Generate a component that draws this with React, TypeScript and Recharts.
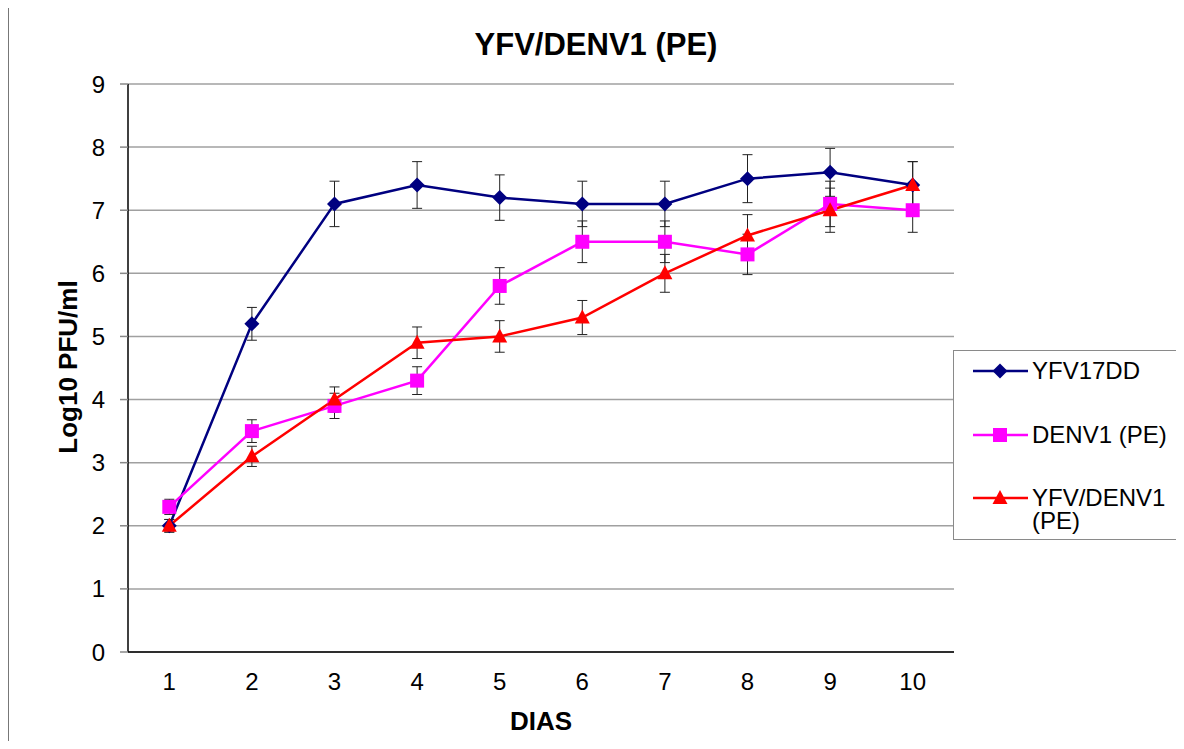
import React from 'react';
import { LineChart, Line, XAxis, YAxis, CartesianGrid, ErrorBar, Legend } from 'recharts';

const days = ['1', '2', '3', '4', '5', '6', '7', '8', '9', '10'];
const yfv17dd = [2.0, 5.2, 7.1, 7.4, 7.2, 7.1, 7.1, 7.5, 7.6, 7.4];
const denv1 = [2.3, 3.5, 3.9, 4.3, 5.8, 6.5, 6.5, 6.3, 7.1, 7.0];
const yfvDenv1 = [2.0, 3.1, 4.0, 4.9, 5.0, 5.3, 6.0, 6.6, 7.0, 7.4];
const errYfv17dd = [0.1, 0.26, 0.36, 0.37, 0.36, 0.36, 0.36, 0.38, 0.38, 0.37];
const errDenv1 = [0.12, 0.18, 0.2, 0.22, 0.29, 0.33, 0.33, 0.32, 0.36, 0.35];
const errYfvDenv1 = [0.1, 0.16, 0.2, 0.25, 0.25, 0.27, 0.3, 0.33, 0.35, 0.37];
const yTicks = [0, 1, 2, 3, 4, 5, 6, 7, 8, 9];

const seriesNames = ['YFV17DD', 'DENV1 (PE)', 'YFV/DENV1 (PE)'];
const seriesColors = ['#000080', '#FF00FF', '#FF0000'];
const seriesShapes = ['diamond', 'square', 'triangle'];

const data = days.map((d, i) => ({
  day: d,
  s1: yfv17dd[i],
  s2: denv1[i],
  s3: yfvDenv1[i],
  e1: errYfv17dd[i],
  e2: errDenv1[i],
  e3: errYfvDenv1[i],
}));

const FONT = '"Liberation Sans", Arial, sans-serif';

function markerPath(shape: string, cx: number, cy: number): string {
  if (shape === 'diamond') {
    const r = 7.5;
    return `M${cx},${cy - r}L${cx + r},${cy}L${cx},${cy + r}L${cx - r},${cy}Z`;
  }
  if (shape === 'square') {
    const h = 7;
    return `M${cx - h},${cy - h}L${cx + h},${cy - h}L${cx + h},${cy + h}L${cx - h},${cy + h}Z`;
  }
  const w = 7.5;
  return `M${cx},${cy - 8}L${cx + w},${cy + 6}L${cx - w},${cy + 6}Z`;
}

const makeDot = (shape: string, color: string) => (props: any) => {
  const { cx, cy, index } = props;
  if (cx == null || cy == null) return <g key={`d-${shape}-${index}`} />;
  return <path key={`d-${shape}-${index}`} d={markerPath(shape, cx, cy)} fill={color} stroke="none" />;
};

const renderLegend = (props: any) => {
  const payload = [...(props.payload || [])].sort(
    (a: any, b: any) => seriesNames.indexOf(a.value) - seriesNames.indexOf(b.value)
  );
  const tops = [20, 84, 147];
  return (
    <div
      style={{
        position: 'relative',
        width: 223,
        height: 190,
        borderTop: '1.5px solid #8a8a8a',
        borderLeft: '1.5px solid #8a8a8a',
        borderBottom: '1.5px solid #8a8a8a',
        background: '#fff',
        fontFamily: FONT,
        fontSize: 24,
        color: '#000',
        boxSizing: 'border-box',
      }}
    >
      {payload.map((entry: any, i: number) => {
        const idx = seriesNames.indexOf(entry.value);
        const shape = seriesShapes[idx];
        const color = seriesColors[idx];
        const cy = tops[i];
        return (
          <div key={entry.value}>
            <svg style={{ position: 'absolute', left: 18, top: cy - 12 }} width={58} height={24}>
              <line x1={1} y1={12} x2={56} y2={12} stroke={color} strokeWidth={2.5} />
              <path d={markerPath(shape, 28, 12)} fill={color} />
            </svg>
            <div
              style={{
                position: 'absolute',
                left: 78,
                top: cy - 12,
                width: 136,
                lineHeight: '23px',
              }}
            >
              {entry.value}
            </div>
          </div>
        );
      })}
    </div>
  );
};

export default function App() {
  const W = 1168;
  const H = 733;
  return (
    <div style={{ position: 'relative', width: W, height: H, fontFamily: FONT }}>
      <div
        style={{
          position: 'absolute',
          left: 0,
          top: -1,
          width: W,
          height: H + 1,
          borderTop: '1.5px solid #777',
          borderLeft: '1.5px solid #777',
          boxSizing: 'border-box',
          pointerEvents: 'none',
        }}
      />
      <LineChart width={W} height={H} data={data} margin={{ top: 76, right: 222, bottom: 0, left: 0 }}>
        <CartesianGrid vertical={false} stroke="#a0a0a0" strokeWidth={1.5} yAxisId="l" />
        <XAxis
          dataKey="day"
          scale="band"
          height={89}
          tickLine={false}
          tickSize={6}
          tickMargin={15}
          axisLine={{ stroke: '#000', strokeWidth: 1.5 }}
          tick={{ fill: '#000', fontSize: 24, fontFamily: FONT }}
          interval={0}
        />
        <YAxis
          yAxisId="l"
          width={120}
          domain={[0, 9]}
          ticks={yTicks}
          interval={0}
          tickSize={8}
          tickMargin={15}
          tickLine={{ stroke: '#888', strokeWidth: 1.5 }}
          axisLine={{ stroke: '#000', strokeWidth: 1.5 }}
          tick={{ fill: '#000', fontSize: 24, fontFamily: FONT }}
        />
        <YAxis
          yAxisId="r"
          orientation="right"
          width={0}
          domain={[0, 9]}
          tick={false}
          tickLine={false}
          axisLine={{ stroke: '#999', strokeWidth: 2 }}
        />
        <Legend
          layout="vertical"
          align="center"
          verticalAlign="middle"
          content={renderLegend}
          wrapperStyle={{ left: 945, top: 342, width: 223, height: 190 }}
        />
        <Line
          yAxisId="l"
          name={seriesNames[0]}
          dataKey="s1"
          stroke={seriesColors[0]}
          strokeWidth={2.5}
          dot={makeDot(seriesShapes[0], seriesColors[0])}
          activeDot={false}
          isAnimationActive={false}
        >
          <ErrorBar dataKey="e1" direction="y" width={5} stroke="#222" strokeWidth={1} isAnimationActive={false} />
        </Line>
        <Line
          yAxisId="l"
          name={seriesNames[1]}
          dataKey="s2"
          stroke={seriesColors[1]}
          strokeWidth={2.5}
          dot={makeDot(seriesShapes[1], seriesColors[1])}
          activeDot={false}
          isAnimationActive={false}
        >
          <ErrorBar dataKey="e2" direction="y" width={5} stroke="#222" strokeWidth={1} isAnimationActive={false} />
        </Line>
        <Line
          yAxisId="l"
          name={seriesNames[2]}
          dataKey="s3"
          stroke={seriesColors[2]}
          strokeWidth={2.5}
          dot={makeDot(seriesShapes[2], seriesColors[2])}
          activeDot={false}
          isAnimationActive={false}
        >
          <ErrorBar dataKey="e3" direction="y" width={5} stroke="#222" strokeWidth={1} isAnimationActive={false} />
        </Line>
      </LineChart>
      <div
        style={{
          position: 'absolute',
          left: 588,
          top: 21,
          transform: 'translateX(-50%)',
          fontSize: 31,
          lineHeight: '31px',
          fontWeight: 'bold',
          whiteSpace: 'nowrap',
          color: '#000',
        }}
      >
        YFV/DENV1 (PE)
      </div>
      <div
        style={{
          position: 'absolute',
          left: 533,
          top: 700,
          transform: 'translateX(-50%)',
          fontSize: 26,
          lineHeight: '26px',
          fontWeight: 'bold',
          whiteSpace: 'nowrap',
          color: '#000',
        }}
      >
        DIAS
      </div>
      <div
        style={{
          position: 'absolute',
          left: 60,
          top: 359,
          transform: 'translate(-50%, -50%) rotate(-90deg)',
          fontSize: 26,
          lineHeight: '26px',
          fontWeight: 'bold',
          whiteSpace: 'nowrap',
          color: '#000',
        }}
      >
        Log10 PFU/ml
      </div>
    </div>
  );
}
